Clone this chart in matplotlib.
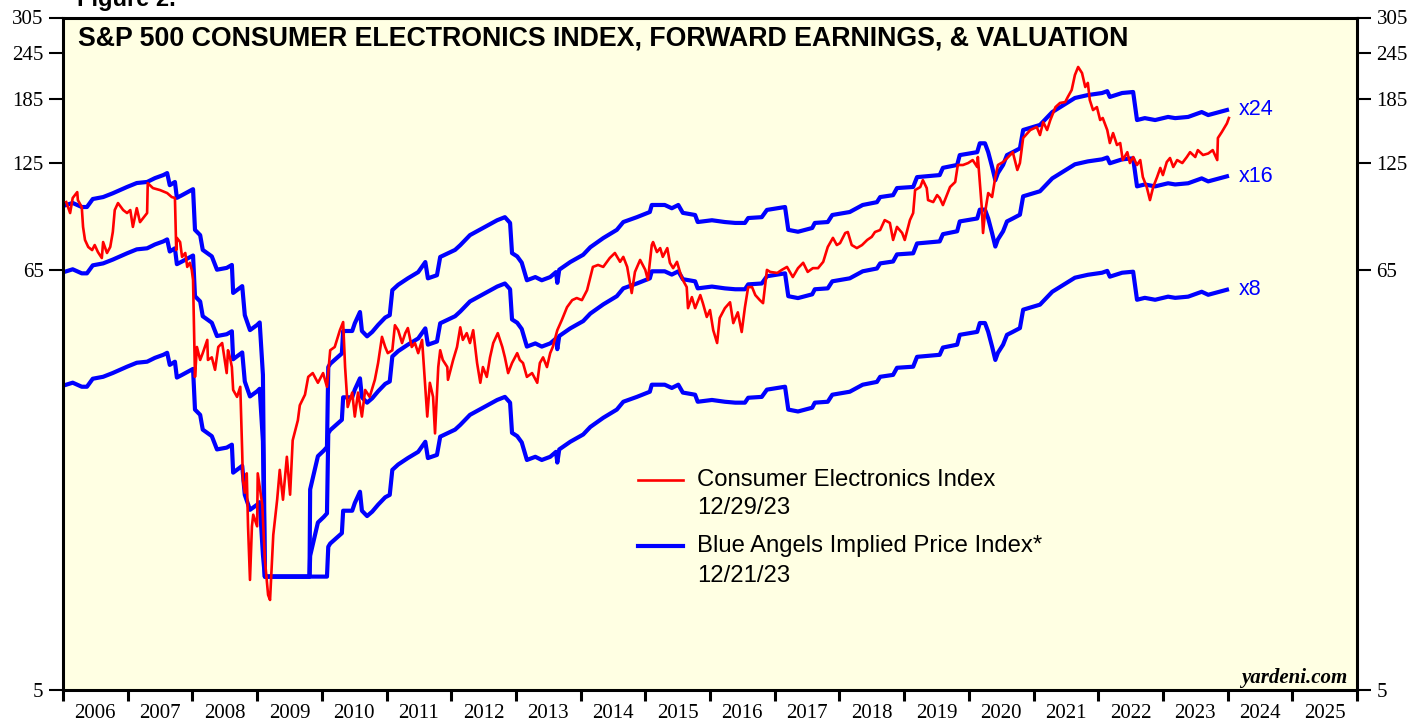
import numpy as np
import matplotlib
matplotlib.use("Agg")
import matplotlib.pyplot as plt
from matplotlib.ticker import FixedLocator, NullLocator, NullFormatter, FixedFormatter

# ---------------- data ----------------
# S&P 500 Consumer Electronics Index (decimal year, index level)
ce_dates = [2006.05, 2006.11, 2006.15, 2006.22, 2006.23, 2006.29, 2006.31, 2006.34, 2006.39, 2006.45,
            2006.49, 2006.54, 2006.60, 2006.62, 2006.68, 2006.73, 2006.77, 2006.80, 2006.85, 2006.93,
            2006.99, 2007.04, 2007.08, 2007.14, 2007.19, 2007.24, 2007.30, 2007.31, 2007.39, 2007.50,
            2007.61, 2007.68, 2007.73, 2007.75, 2007.76, 2007.81, 2007.84, 2007.89, 2007.92, 2007.96,
            2007.99, 2008.01, 2008.04, 2008.07, 2008.12, 2008.16, 2008.23, 2008.24, 2008.30, 2008.35,
            2008.40, 2008.46, 2008.50, 2008.53, 2008.55, 2008.58, 2008.61, 2008.63, 2008.69, 2008.74,
            2008.77, 2008.78, 2008.81, 2008.84, 2008.86, 2008.89, 2008.92, 2008.94, 2009.00, 2009.01,
            2009.08, 2009.12, 2009.17, 2009.20, 2009.25, 2009.31, 2009.35, 2009.40, 2009.46, 2009.51,
            2009.55, 2009.63, 2009.66, 2009.74, 2009.79, 2009.86, 2009.94, 2010.02, 2010.08, 2010.13,
            2010.20, 2010.28, 2010.33, 2010.36, 2010.40, 2010.47, 2010.51, 2010.56, 2010.62, 2010.67,
            2010.74, 2010.82, 2010.87, 2010.93, 2010.98, 2011.02, 2011.09, 2011.13, 2011.18, 2011.24,
            2011.29, 2011.33, 2011.39, 2011.44, 2011.49, 2011.55, 2011.60, 2011.63, 2011.67, 2011.72,
            2011.75, 2011.80, 2011.83, 2011.87, 2011.94, 2011.95, 2012.03, 2012.09, 2012.14, 2012.18,
            2012.24, 2012.29, 2012.34, 2012.40, 2012.45, 2012.49, 2012.55, 2012.60, 2012.65, 2012.72,
            2012.79, 2012.83, 2012.88, 2012.94, 2013.02, 2013.06, 2013.11, 2013.17, 2013.25, 2013.33,
            2013.37, 2013.42, 2013.48, 2013.53, 2013.57, 2013.64, 2013.71, 2013.79, 2013.87, 2013.94,
            2014.02, 2014.10, 2014.15, 2014.19, 2014.27, 2014.35, 2014.45, 2014.53, 2014.61, 2014.66,
            2014.72, 2014.79, 2014.84, 2014.92, 2015.00, 2015.04, 2015.10, 2015.12, 2015.18, 2015.23,
            2015.27, 2015.34, 2015.38, 2015.43, 2015.49, 2015.54, 2015.58, 2015.64, 2015.66, 2015.72,
            2015.77, 2015.85, 2015.89, 2015.95, 2016.00, 2016.05, 2016.11, 2016.15, 2016.23, 2016.31,
            2016.36, 2016.43, 2016.49, 2016.54, 2016.59, 2016.65, 2016.70, 2016.77, 2016.82, 2016.88,
            2016.93, 2017.04, 2017.11, 2017.19, 2017.28, 2017.36, 2017.44, 2017.51, 2017.59, 2017.67,
            2017.75, 2017.82, 2017.90, 2017.96, 2018.01, 2018.09, 2018.13, 2018.19, 2018.27, 2018.35,
            2018.43, 2018.50, 2018.55, 2018.63, 2018.70, 2018.78, 2018.83, 2018.89, 2018.97, 2019.01,
            2019.09, 2019.14, 2019.17, 2019.25, 2019.29, 2019.35, 2019.37, 2019.45, 2019.51, 2019.55,
            2019.60, 2019.66, 2019.71, 2019.79, 2019.83, 2019.91, 2019.99, 2020.06, 2020.13, 2020.14,
            2020.20, 2020.22, 2020.25, 2020.30, 2020.36, 2020.41, 2020.45, 2020.53, 2020.61, 2020.68,
            2020.75, 2020.79, 2020.84, 2020.95, 2021.05, 2021.10, 2021.15, 2021.21, 2021.26, 2021.34,
            2021.41, 2021.49, 2021.53, 2021.59, 2021.64, 2021.69, 2021.75, 2021.80, 2021.84, 2021.87,
            2021.92, 2021.98, 2022.03, 2022.07, 2022.14, 2022.18, 2022.23, 2022.29, 2022.34, 2022.38,
            2022.45, 2022.49, 2022.54, 2022.60, 2022.65, 2022.69, 2022.75, 2022.80, 2022.85, 2022.91,
            2022.96, 2023.00, 2023.06, 2023.11, 2023.16, 2023.22, 2023.30, 2023.37, 2023.42, 2023.50,
            2023.54, 2023.62, 2023.70, 2023.77, 2023.84, 2023.85, 2023.91, 2023.99, 2024.02]
ce_values = [98.7, 92.3, 101.2, 104.9, 99.9, 95.7, 84.8, 78.3, 75.0, 73.6,
             75.9, 72.7, 70.1, 77.3, 72.3, 75.0, 82.2, 94.0, 98.1, 94.0,
             92.3, 94.0, 84.8, 95.1, 87.3, 89.5, 92.3, 110.8, 107.5, 106.2,
             104.3, 101.8, 101.2, 73.6, 79.3, 77.3, 70.6, 72.3, 66.4, 68.1,
             65.2, 61.3, 33.9, 40.7, 37.6, 39.2, 42.5, 37.6, 38.2, 35.4,
             40.7, 41.7, 37.6, 34.7, 39.9, 38.2, 36.0, 31.3, 30.0, 31.9,
             21.3, 18.05, 16.7, 18.8, 13.6, 9.8, 13.6, 14.6, 13.6, 18.8,
             15.5, 11.1, 8.94, 8.67, 12.9, 16.0, 19.2, 16.0, 20.8, 16.5,
             23.0, 26.0, 28.5, 30.4, 33.9, 34.7, 32.7, 34.7, 31.9, 39.9,
             40.7, 45.1, 47.4, 36.0, 28.2, 30.8, 26.6, 30.8, 26.6, 31.3,
             30.0, 33.3, 36.9, 43.3, 40.7, 39.2, 39.9, 46.5, 45.1, 41.7,
             44.3, 45.7, 40.7, 41.7, 39.2, 42.5, 31.9, 26.6, 32.7, 30.0,
             24.0, 36.0, 39.9, 37.6, 36.0, 33.3, 37.6, 40.7, 45.9, 42.5,
             44.3, 41.7, 45.1, 36.9, 32.7, 36.0, 33.9, 38.2, 41.7, 44.3,
             40.7, 38.2, 34.7, 36.9, 39.2, 37.6, 36.9, 33.9, 34.7, 32.7,
             36.9, 38.2, 36.0, 39.2, 40.7, 45.1, 48.0, 51.9, 54.2, 54.9,
             54.2, 57.6, 62.4, 66.4, 67.2, 66.4, 70.1, 72.3, 68.5, 70.6,
             66.4, 56.6, 64.4, 69.3, 65.2, 61.3, 75.9, 77.3, 72.7, 74.5,
             70.6, 74.5, 68.1, 65.9, 68.5, 64.0, 61.3, 58.7, 51.6, 55.2,
             51.6, 55.9, 53.2, 48.9, 51.0, 45.1, 41.7, 48.6, 51.6, 53.5,
             47.1, 50.3, 44.6, 51.9, 58.7, 58.7, 55.9, 54.2, 53.2, 65.2,
             64.4, 64.0, 65.2, 66.4, 62.4, 65.9, 68.1, 64.4, 65.9, 65.9,
             68.5, 75.0, 79.3, 75.9, 76.8, 81.7, 82.2, 75.9, 74.5, 75.9,
             78.3, 79.8, 82.2, 83.2, 88.4, 86.9, 78.3, 84.8, 81.7, 78.3,
             88.4, 92.3, 106.2, 108.2, 112.9, 107.5, 99.9, 98.7, 103.0, 101.2,
             96.9, 103.0, 108.2, 111.6, 123.8, 123.8, 125.3, 127.6, 122.3, 130.0,
             95.7, 81.7, 92.3, 104.3, 101.8, 115.0, 123.8, 126.1, 130.0, 133.9,
             120.1, 125.3, 146.0, 153.3, 156.2, 148.7, 161.0, 153.3, 163.0, 176.4,
             180.9, 181.9, 187.6, 195.8, 214.6, 225.4, 217.2, 199.4, 204.5, 184.2,
             173.2, 176.4, 163.0, 165.0, 153.3, 141.6, 150.5, 139.9, 141.6, 127.6,
             133.9, 125.3, 130.0, 123.8, 127.6, 115.0, 108.2, 99.9, 108.2, 115.0,
             121.6, 116.4, 126.1, 129.2, 122.3, 127.6, 125.3, 130.0, 133.9, 130.0,
             135.6, 131.6, 132.8, 135.6, 127.6, 146.0, 151.4, 159.7, 165.0]

# Forward earnings per share behind the Blue Angels bands (decimal year, EPS)
eps_dates = [2006.05, 2006.15, 2006.29, 2006.37, 2006.46, 2006.62, 2006.77, 2006.99, 2007.14, 2007.30,
             2007.42, 2007.55, 2007.61, 2007.65, 2007.73, 2007.76, 2007.84, 2008.01, 2008.04, 2008.12,
             2008.16, 2008.30, 2008.38, 2008.53, 2008.61, 2008.63, 2008.77, 2008.81, 2008.89, 2009.00,
             2009.04, 2009.09, 2009.12, 2009.81, 2009.82, 2009.94, 2010.03, 2010.08, 2010.10, 2010.13,
             2010.31, 2010.33, 2010.47, 2010.51, 2010.59, 2010.62, 2010.70, 2010.78, 2010.87, 2010.98,
             2011.05, 2011.09, 2011.18, 2011.33, 2011.49, 2011.60, 2011.64, 2011.78, 2011.83, 2012.06,
             2012.14, 2012.29, 2012.49, 2012.71, 2012.83, 2012.91, 2012.94, 2013.02, 2013.09, 2013.17,
             2013.30, 2013.40, 2013.53, 2013.62, 2013.64, 2013.67, 2013.84, 2014.04, 2014.15, 2014.35,
             2014.56, 2014.66, 2014.87, 2015.07, 2015.10, 2015.30, 2015.41, 2015.51, 2015.58, 2015.77,
             2015.81, 2016.03, 2016.23, 2016.39, 2016.54, 2016.59, 2016.80, 2016.88, 2017.16, 2017.21,
             2017.36, 2017.58, 2017.62, 2017.82, 2017.89, 2018.09, 2018.16, 2018.36, 2018.58, 2018.63,
             2018.83, 2018.89, 2019.14, 2019.20, 2019.55, 2019.60, 2019.82, 2019.86, 2020.13, 2020.17,
             2020.25, 2020.30, 2020.36, 2020.41, 2020.45, 2020.53, 2020.59, 2020.68, 2020.79, 2020.84,
             2021.10, 2021.29, 2021.59, 2021.64, 2021.84, 2022.06, 2022.14, 2022.18, 2022.37, 2022.54,
             2022.60, 2022.72, 2022.88, 2023.08, 2023.19, 2023.39, 2023.60, 2023.70, 2023.99]
fwd_eps = [4.04, 4.09, 3.99, 3.99, 4.19, 4.24, 4.34, 4.51, 4.62, 4.65,
           4.76, 4.85, 4.91, 4.56, 4.65, 4.22, 4.29, 4.45, 3.47, 3.36,
           3.07, 2.95, 2.72, 2.75, 2.80, 2.36, 2.46, 2.06, 1.88, 1.94,
           1.97, 1.43, 0.30, 0.30, 0.71, 0.87, 0.90, 0.92, 1.50, 1.53,
           1.63, 1.87, 1.87, 1.96, 2.10, 1.87, 1.81, 1.86, 1.94, 2.03,
           2.06, 2.40, 2.48, 2.58, 2.68, 2.85, 2.58, 2.63, 2.94, 3.07,
           3.16, 3.36, 3.51, 3.68, 3.75, 3.62, 3.01, 2.95, 2.84, 2.55,
           2.60, 2.55, 2.60, 2.68, 2.51, 2.72, 2.85, 2.98, 3.12, 3.30,
           3.47, 3.64, 3.75, 3.87, 4.04, 4.04, 3.96, 4.04, 3.85, 3.80,
           3.64, 3.68, 3.64, 3.62, 3.62, 3.73, 3.75, 3.92, 3.99, 3.47,
           3.43, 3.51, 3.62, 3.64, 3.80, 3.85, 3.87, 4.04, 4.11, 4.24,
           4.29, 4.48, 4.51, 4.79, 4.85, 5.07, 5.16, 5.48, 5.58, 5.89,
           5.89, 5.58, 5.10, 4.70, 4.91, 5.16, 5.48, 5.58, 5.71, 6.39,
           6.59, 7.13, 7.68, 7.77, 7.91, 8.01, 8.10, 7.82, 8.01, 8.06,
           6.79, 6.87, 6.79, 6.92, 6.87, 6.92, 7.13, 7.00, 7.22]

multiples = [24, 16, 8]
multiple_labels = ["x24", "x16", "x8"]
band_floor = 10          # the chart floors the bands at 10
yticks = [5, 65, 125, 185, 245, 305]
year_labels = [str(y) for y in range(2006, 2026)]

title = "S&P 500 CONSUMER ELECTRONICS INDEX, FORWARD EARNINGS, & VALUATION"
legend_red = ["Consumer Electronics Index", "12/29/23"]
legend_blue = ["Blue Angels Implied Price Index*", "12/21/23"]

# ---------------- drawing ----------------
plt.rcParams['font.family'] = ['Liberation Serif', 'DejaVu Serif']
SANS = ['Liberation Sans', 'DejaVu Sans']
RED = '#FF0000'
BLUE = '#0000FF'

fig = plt.figure(figsize=(14.24, 7.21), dpi=100)
fig.patch.set_facecolor('white')
ax = fig.add_axes([63 / 1424, 31 / 721, 1294 / 1424, 672.5 / 721])
ax.set_facecolor('#FFFFE3')
ax.set_yscale('log')

eps_arr = np.array(fwd_eps)
for m in multiples:
    ax.plot(eps_dates, np.maximum(m * eps_arr, band_floor), color=BLUE, lw=3.0,
            solid_joinstyle='round', zorder=2)
ax.plot(ce_dates, ce_values, color=RED, lw=1.9, solid_joinstyle='round', zorder=3)

ax.set_xlim(2006, 2026)
ax.set_ylim(5, 305)

# y axis (both sides)
ax.yaxis.set_major_locator(FixedLocator(yticks))
ax.yaxis.set_minor_locator(NullLocator())
ax.yaxis.set_major_formatter(FixedFormatter([str(v) for v in yticks]))
ax.yaxis.set_minor_formatter(NullFormatter())
ax.tick_params(axis='y', which='major', direction='out', length=10, width=1.5,
               left=True, right=True, labelleft=True, labelright=True,
               labelsize=15, pad=4, colors='black')

# x axis: ticks at year boundaries, labels centred between them
ax.xaxis.set_major_locator(FixedLocator(list(range(2006, 2027))))
ax.xaxis.set_major_formatter(NullFormatter())
ax.xaxis.set_minor_locator(FixedLocator([y + 0.5 for y in range(2006, 2026)]))
ax.xaxis.set_minor_formatter(FixedFormatter(year_labels))
ax.tick_params(axis='x', which='major', direction='out', length=8, width=2.2)
ax.tick_params(axis='x', which='minor', length=0, labelsize=15, pad=10)

for s in ax.spines.values():
    s.set_linewidth(2.2)
    s.set_color('black')

# title inside plot
fig.text(78 / 1424, 1 - 38 / 721, title, family=SANS, weight='bold', fontsize=19.3,
         va='center', ha='left')
# clipped figure caption at very top
fig.text(77 / 1424, 1 - 6 / 721, "Figure 2.", family=SANS, weight='bold', fontsize=17,
         va='baseline', ha='left')

# band labels at the right end of each band
for m, lab in zip(multiples, multiple_labels):
    ax.text(eps_dates[-1] + 0.18, max(m * fwd_eps[-1], band_floor), lab, color=BLUE,
            family=SANS, fontsize=15.5, va='center', ha='left')

# legend (manual)
ax.plot([0.4444, 0.479], [0.3123, 0.3123], transform=ax.transAxes, color=RED, lw=1.9)
ax.plot([0.4444, 0.479], [0.2141, 0.2141], transform=ax.transAxes, color=BLUE, lw=3.0)
ax.text(0.490, 0.3123, legend_red[0], transform=ax.transAxes, family=SANS, fontsize=17.2,
        va='center', ha='left')
ax.text(0.490, 0.2707, legend_red[1], transform=ax.transAxes, family=SANS, fontsize=17.2,
        va='center', ha='left')
ax.text(0.490, 0.2141, legend_blue[0], transform=ax.transAxes, family=SANS, fontsize=17.2,
        va='center', ha='left')
ax.text(0.490, 0.1695, legend_blue[1], transform=ax.transAxes, family=SANS, fontsize=17.2,
        va='center', ha='left')

ax.text(0.9923, 0.0104, "yardeni.com", transform=ax.transAxes, fontsize=15,
        weight='bold', style='italic', va='baseline', ha='right')

fig.savefig("out.png", dpi=100)
